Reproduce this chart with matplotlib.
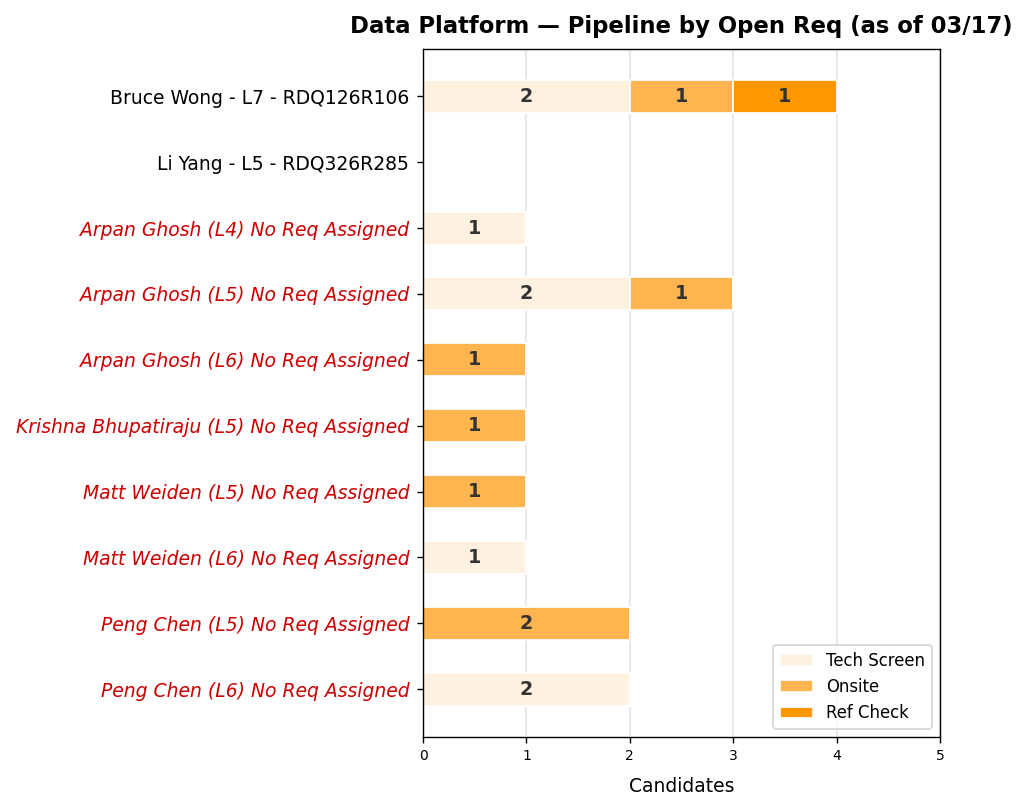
import matplotlib
matplotlib.use("Agg")
import matplotlib.pyplot as plt
import numpy as np

# pipeline per open req
reqs = ['Bruce Wong - L7 - RDQ126R106',
        'Li Yang - L5 - RDQ326R285',
        'Arpan Ghosh (L4) No Req Assigned',
        'Arpan Ghosh (L5) No Req Assigned',
        'Arpan Ghosh (L6) No Req Assigned',
        'Krishna Bhupatiraju (L5) No Req Assigned',
        'Matt Weiden (L5) No Req Assigned',
        'Matt Weiden (L6) No Req Assigned',
        'Peng Chen (L5) No Req Assigned',
        'Peng Chen (L6) No Req Assigned']
tech_screen = [2, 0, 1, 2, 0, 0, 0, 1, 0, 2]
onsite = [1, 0, 0, 1, 1, 1, 1, 0, 2, 0]
ref_check = [1, 0, 0, 0, 0, 0, 0, 0, 0, 0]

stages = ['Tech Screen', 'Onsite', 'Ref Check']
stage_colors = ['#FEF1E0', '#FFB54F', '#FF9800']

fig = plt.figure(figsize=(8.24, 6.472), dpi=125)
ax = fig.add_axes([0.4107, 0.089, 0.502, 0.851])

y = np.arange(len(reqs))
left = np.zeros(len(reqs))
for name, vals, col in zip(stages, [tech_screen, onsite, ref_check], stage_colors):
    vals = np.array(vals, dtype=float)
    bars = ax.barh(y, vals, height=0.5, left=left, color=col, label=name,
                   edgecolor='white', linewidth=1, zorder=2)
    for b, v in zip(bars, vals):
        if v > 0:
            ax.text(b.get_x() + b.get_width() / 2, b.get_y() + b.get_height() / 2,
                    str(int(v)), ha='center', va='center', fontsize=11,
                    fontweight='bold', color='#333333', zorder=3)
    left += vals

ax.set_yticks(y)
ax.set_yticklabels(reqs, fontsize=10.8)
ax.tick_params(axis='y', pad=4.5)
for lbl in ax.get_yticklabels():
    if 'No Req Assigned' in lbl.get_text():
        lbl.set_color('#CC0000')
        lbl.set_fontstyle('italic')
ax.invert_yaxis()

ax.set_xlim(0, 5)
ax.set_xticks(range(6))
ax.tick_params(axis='x', labelsize=8)
ax.set_xlabel('Candidates', fontsize=10.8, labelpad=8)
ax.grid(axis='x', color='#e8e8e8', linewidth=1.2, zorder=0)
ax.set_axisbelow(True)

ax.set_title('Data Platform \u2014 Pipeline by Open Req (as of 03/17)',
             fontsize=13.1, fontweight='bold', pad=8.7)
ax.legend(loc='lower right', fontsize=9.5)

fig.savefig('out.png', dpi=125)
